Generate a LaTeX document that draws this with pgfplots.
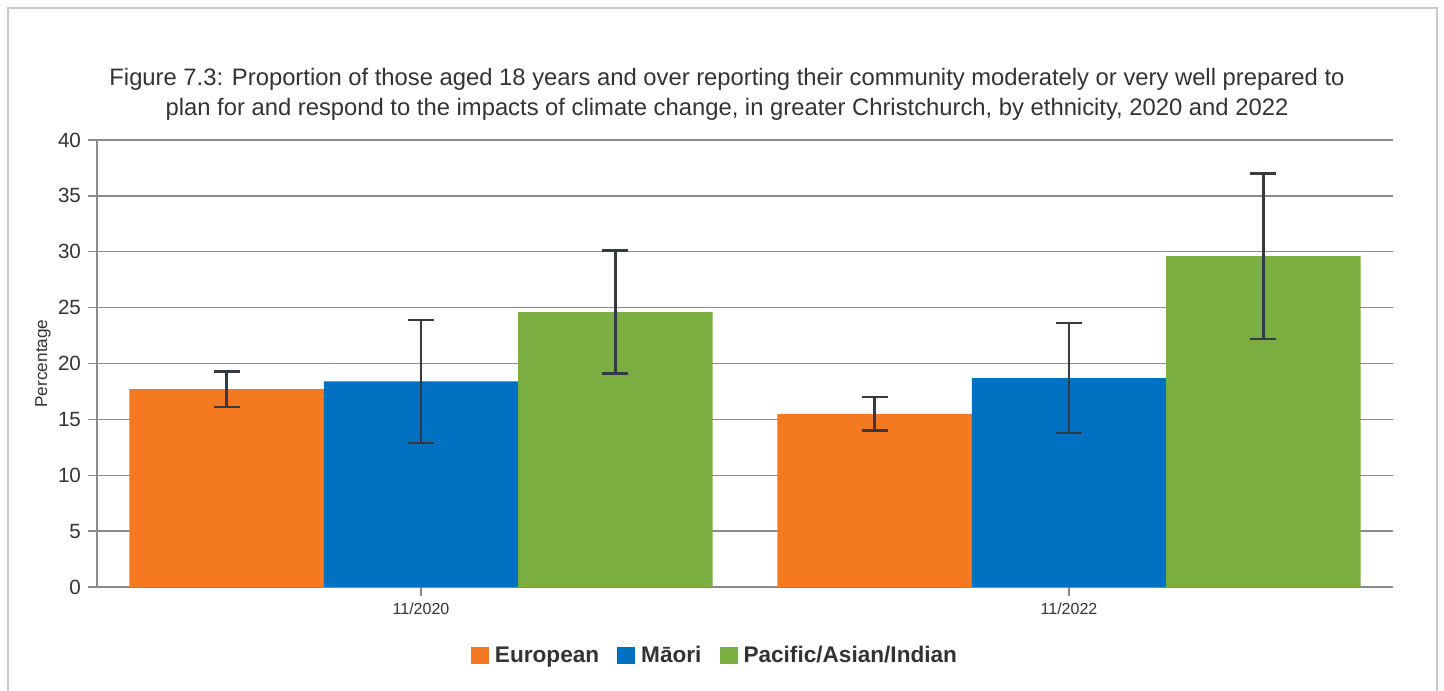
\documentclass[border=0pt]{standalone}
\usepackage{fontspec}
\setmainfont{Liberation Sans}
\usepackage{pgfplots}
\pgfplotsset{compat=1.18}
\usepackage{pgfplotstable}
\definecolor{eur}{HTML}{F47920}
\definecolor{mao}{HTML}{0070C0}
\definecolor{pai}{HTML}{7AAE41}
\definecolor{gridc}{HTML}{8A8A8A}
\definecolor{errc}{HTML}{363A40}
\definecolor{txt}{HTML}{333333}
\definecolor{framec}{HTML}{C8C8C8}

\pgfplotstableread{
x y e
0 17.7 1.6
1 15.5 1.5
}\eurtab
\pgfplotstableread{
x y e
0 18.4 5.5
1 18.7 4.9
}\maotab
\pgfplotstableread{
x y e
0 24.6 5.5
1 29.6 7.4
}\paitab

\begin{document}
\begin{tikzpicture}
\useasboundingbox (0,0) rectangle (722pt,345pt);
\fill[white] (0,0) rectangle (722pt,345pt);
\draw[framec, line width=1pt] (4pt,-2pt) -- (4pt,341pt) -- (718.5pt,341pt) -- (718.5pt,-2pt);
\node[anchor=base, inner sep=0pt, font=\fontsize{11.9}{14}\selectfont, text=txt] at (363.5pt,302pt) {Figure 7.3: Proportion of those aged 18 years and over reporting their community moderately or very well prepared to};
\node[anchor=base, inner sep=0pt, font=\fontsize{11.9}{14}\selectfont, text=txt] at (363.5pt,287pt) {plan for and respond to the impacts of climate change, in greater Christchurch, by ethnicity, 2020 and 2022};
\begin{axis}[
  at={(48.5pt,51.5pt)}, anchor=south west,
  scale only axis, width=648pt, height=223.5pt,
  ymin=0, ymax=40, ytick={0,5,...,40},
  xmin=-0.5, xmax=1.5, xtick={0,1}, xticklabels={11/2020,11/2022},
  axis lines=left, axis line style={gridc, line width=0.7pt, -},
  ymajorgrids, major grid style={gridc, line width=0.7pt},
  tick style={gridc, line width=0.7pt},
  tick align=outside, major tick length=4.5pt,
  /pgf/number format/assume math mode=true,
  yticklabel style={font=\fontsize{10.3}{12}\selectfont, text=txt},
  xticklabel style={font=\fontsize{8}{10}\selectfont, text=txt},
  ylabel={Percentage},
  ylabel style={at={(axis description cs:-0.0417,0.5)}, anchor=center, font=\fontsize{8.6}{10}\selectfont, text=txt},
  ybar, bar width=0.3,
  legend style={at={(0.4784,-0.1544)}, anchor=center, draw=none, fill=none,
    legend columns=3, font=\bfseries\fontsize{11.3}{13}\selectfont, text=txt,
    nodes={inner xsep=3pt},
    /tikz/every even column/.append style={column sep=6pt}},
  legend image code/.code={\fill[#1] (0pt,-4pt) rectangle (9pt,4.5pt);},
  error bars/y dir=both, error bars/y explicit,
  error bars/error bar style={errc, line width=1.2pt},
  error bars/error mark options={errc, line width=1.2pt, mark size=6.5pt, rotate=90},
]
\addplot[fill=eur, draw=none, bar shift=-0.3] table[x=x, y=y, y error=e] {\eurtab};
\addlegendentry{European}
\addplot[fill=mao, draw=none, bar shift=0] table[x=x, y=y, y error=e] {\maotab};
\addlegendentry{Māori}
\addplot[fill=pai, draw=none, bar shift=0.3] table[x=x, y=y, y error=e] {\paitab};
\addlegendentry{Pacific/Asian/Indian}
\end{axis}
\end{tikzpicture}
\end{document}
